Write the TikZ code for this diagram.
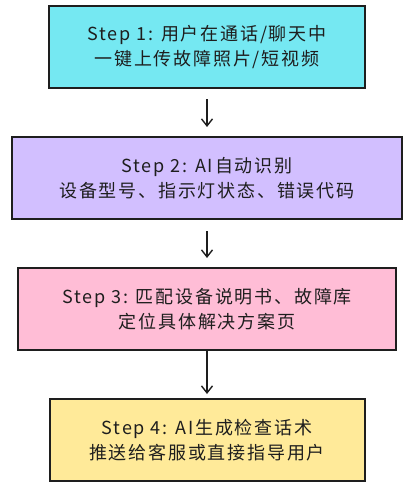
\documentclass[tikz,border=0pt]{standalone}
\usepackage{fontspec}
\setmainfont{Noto Sans CJK SC}[LetterSpace=10]
\usetikzlibrary{arrows.meta}
\definecolor{cyanfill}{HTML}{75E8F2}
\definecolor{violetfill}{HTML}{D2BFFF}
\definecolor{pinkfill}{HTML}{FFBDD6}
\definecolor{yellowfill}{HTML}{FFEA99}
\definecolor{inkc}{HTML}{1E1E1E}
\tikzset{
  stepbox/.style={draw=inkc, line width=2pt, align=center, inner sep=0pt,
    font=\fontsize{18}{25.5}\selectfont, text=inkc},
  flow/.style={draw=inkc, line width=1.4pt, -{Straight Barb[length=7pt,width=11pt,line width=1.4pt]}}
}
\begin{document}
\begin{tikzpicture}[x=1pt,y=-1pt]
\useasboundingbox (0,0) rectangle (418,495);
\node[stepbox, fill=cyanfill, minimum width=316pt, minimum height=82pt] (b1) at (207,47)
  {Step 1: 用户在通话/聊天中\\一键上传故障照片/短视频};
\node[stepbox, fill=violetfill, minimum width=390pt, minimum height=82pt] (b2) at (207,178)
  {Step 2: AI自动识别\\设备型号、指示灯状态、错误代码};
\node[stepbox, fill=pinkfill, minimum width=378pt, minimum height=82pt] (b3) at (207,309)
  {Step 3: 匹配设备说明书、故障库\\定位具体解决方案页};
\node[stepbox, fill=yellowfill, minimum width=315pt, minimum height=82pt] (b4) at (207,440)
  {Step 4: AI生成检查话术\\推送给客服或直接指导用户};
\draw[flow, shorten <=10pt, shorten >=9pt] (b1.south) -- (b2.north);
\draw[flow, shorten <=11pt, shorten >=9pt] (b2.south) -- (b3.north);
\draw[flow, shorten <=0pt, shorten >=4pt] (b3.south) -- (b4.north);
\end{tikzpicture}
\end{document}
